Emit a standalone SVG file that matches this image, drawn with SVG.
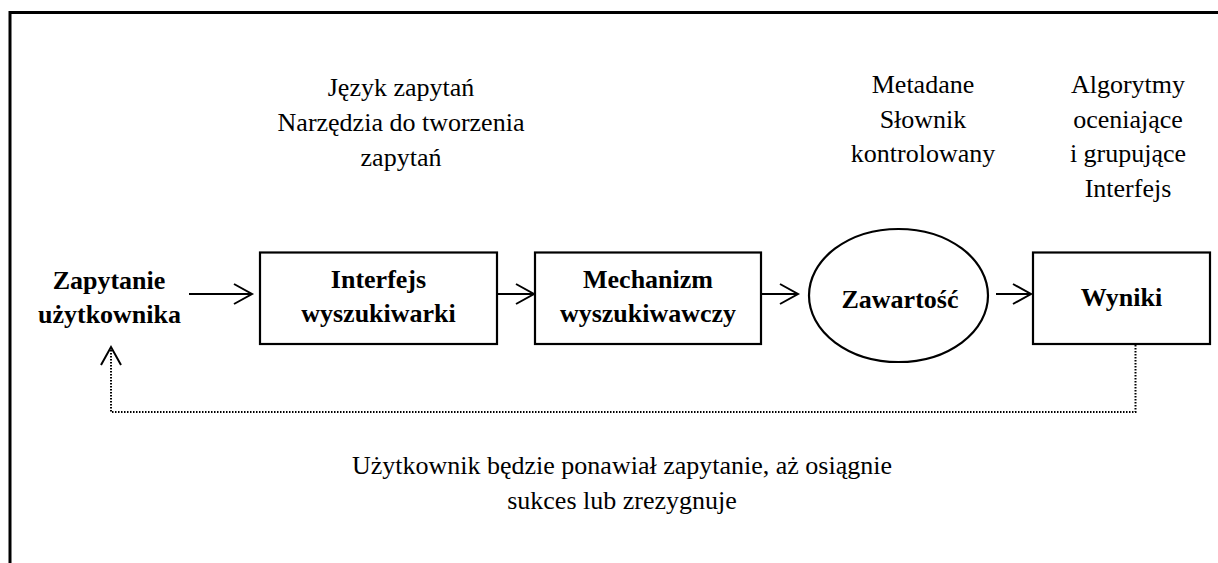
<svg xmlns="http://www.w3.org/2000/svg" width="1218" height="563" viewBox="0 0 1218 563">
  <style>
    .lbl { font-family: "Liberation Serif", "Times New Roman", serif; font-size: 26px; fill: #000; text-anchor: middle; }
    .bold { font-weight: bold; }
    .shape { fill: #fff; stroke: #000; stroke-width: 2.2; }
    .flow { fill: none; stroke: #000; stroke-width: 2; }
    .loop { fill: none; stroke: #000; stroke-width: 2; stroke-dasharray: 1.5 1.5; }
    .head { fill: none; stroke: #000; stroke-width: 2; stroke-linejoin: miter; }
  </style>

  <rect width="1218" height="563" fill="#fff"/>
  <!-- outer frame (continues past the right and bottom edges) -->
  <rect x="10" y="12.5" width="1230" height="570" fill="none" stroke="#000" stroke-width="3"/>

  <!-- annotations above the nodes -->
  <g id="note-query">
    <text class="lbl" x="401" y="96">Język zapytań</text>
    <text class="lbl" x="401" y="131">Narzędzia do tworzenia</text>
    <text class="lbl" x="401" y="166">zapytań</text>
  </g>
  <g id="note-content">
    <text class="lbl" x="923" y="93">Metadane</text>
    <text class="lbl" x="923" y="127.5">Słownik</text>
    <text class="lbl" x="923" y="162">kontrolowany</text>
  </g>
  <g id="note-results">
    <text class="lbl" x="1128" y="93">Algorytmy</text>
    <text class="lbl" x="1128" y="127.5">oceniające</text>
    <text class="lbl" x="1128" y="162">i grupujące</text>
    <text class="lbl" x="1128" y="196.5">Interfejs</text>
  </g>

  <!-- nodes -->
  <g id="user-query">
    <text class="lbl bold" x="109" y="289">Zapytanie</text>
    <text class="lbl bold" x="109.5" y="323">użytkownika</text>
  </g>
  <g id="search-interface">
    <rect class="shape" x="260" y="252.5" width="237" height="91.5"/>
    <text class="lbl bold" x="378.5" y="288">Interfejs</text>
    <text class="lbl bold" x="378.5" y="322">wyszukiwarki</text>
  </g>
  <g id="search-engine">
    <rect class="shape" x="535" y="252.5" width="226" height="91.5"/>
    <text class="lbl bold" x="648" y="288">Mechanizm</text>
    <text class="lbl bold" x="648" y="322">wyszukiwawczy</text>
  </g>
  <g id="content">
    <ellipse class="shape" cx="898.5" cy="295.5" rx="89.5" ry="66.5" stroke-width="2.5"/>
    <text class="lbl bold" x="900" y="308">Zawartość</text>
  </g>
  <g id="results">
    <rect class="shape" x="1033" y="252.5" width="177" height="91.5"/>
    <text class="lbl bold" x="1121.5" y="306">Wyniki</text>
  </g>

  <!-- connectors -->
  <g id="connectors">
    <line class="flow" x1="189" y1="294" x2="252" y2="294"/>
    <polyline class="head" points="234,284 252,294 234,304"/>
    <line class="flow" x1="497" y1="294" x2="534" y2="294"/>
    <polyline class="head" points="516,284 534,294 516,304"/>
    <line class="flow" x1="761" y1="294" x2="798" y2="294"/>
    <polyline class="head" points="780,284 798,294 780,304"/>
    <line class="flow" x1="996" y1="294" x2="1031" y2="294"/>
    <polyline class="head" points="1013,284 1031,294 1013,304"/>

    <!-- feedback loop from results back to the query -->
    <polyline class="loop" points="1135.5,345 1135.5,412 111,412 111,347"/>
    <polyline class="head" points="101,365 111,347 121,365"/>
  </g>

  <g id="note-loop">
    <text class="lbl" x="622" y="474">Użytkownik będzie ponawiał zapytanie, aż osiągnie</text>
    <text class="lbl" x="622" y="509">sukces lub zrezygnuje</text>
  </g>
</svg>
